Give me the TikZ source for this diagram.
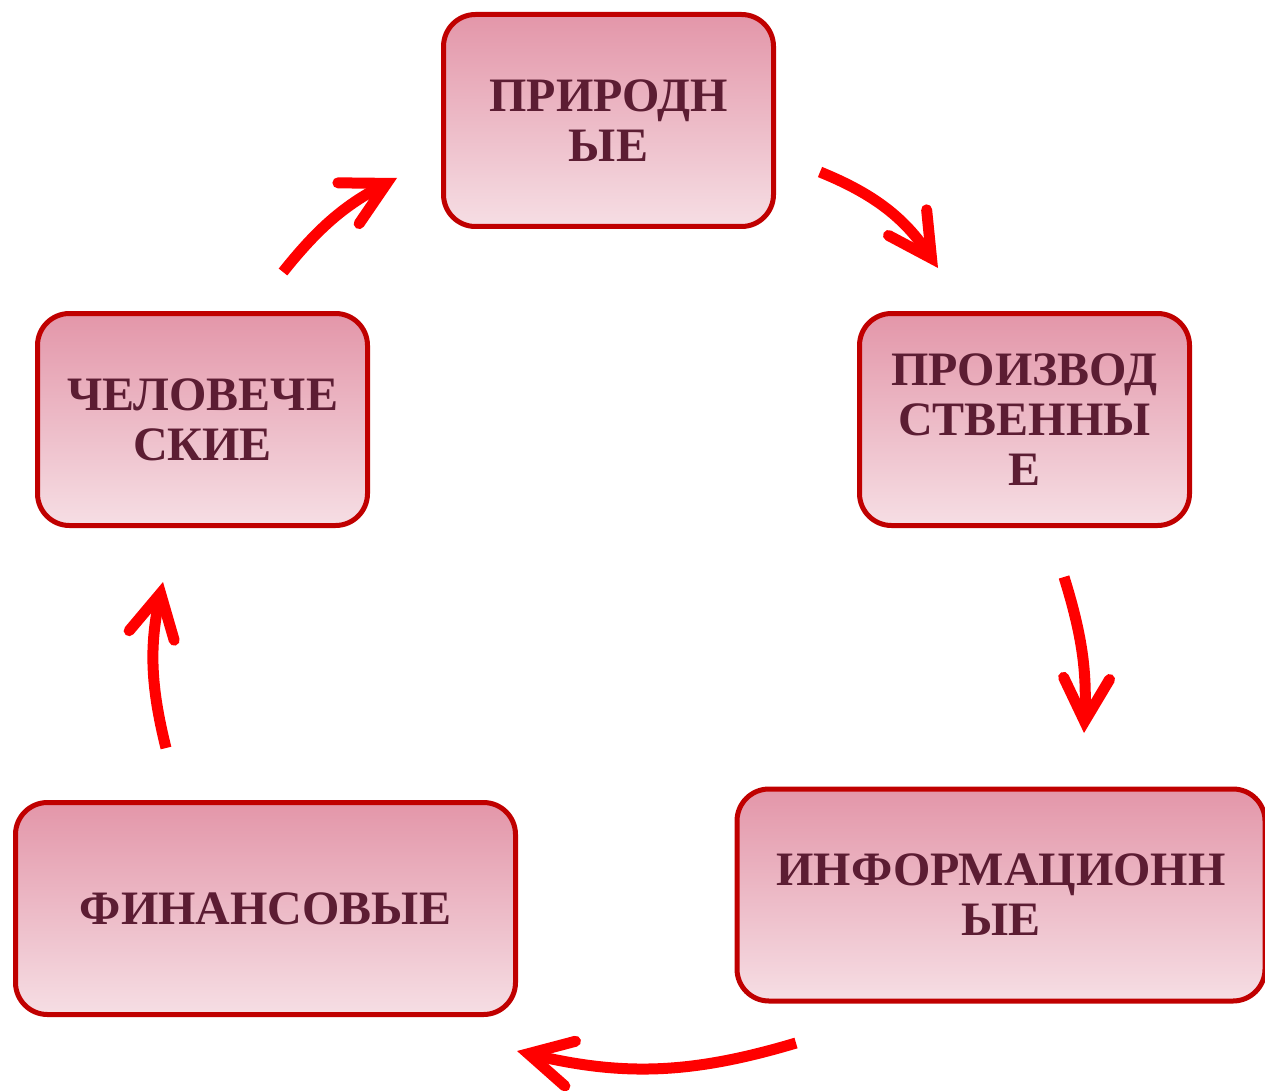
\documentclass[tikz,border=0pt]{standalone}
\usepackage{fontspec}
\setmainfont{Liberation Serif}
\usetikzlibrary{arrows.meta}

\definecolor{boxtop}{HTML}{E396A9}
\definecolor{boxbottom}{HTML}{F6DEE4}
\definecolor{boxline}{HTML}{C00000}
\definecolor{boxtext}{HTML}{5C1D33}

\tikzset{
  resbox/.style={draw=boxline, line width=5pt, rounded corners=32pt,
    top color=boxtop, bottom color=boxbottom, minimum height=212pt,
    align=center, text=boxtext, inner sep=0pt,
    font=\fontsize{48}{50}\selectfont\bfseries},
  cyclearrow/.style={draw=red, line width=11pt,
    -{Straight Barb[length=43pt, width=46pt, line cap=round, line join=miter]}}
}

\begin{document}
\begin{tikzpicture}[x=1pt, y=-1pt]
            \useasboundingbox (0,0) rectangle (1265,1091);
            \node[resbox, minimum width=330pt] (prir) at (608.5, 120.5) {ПРИРОДН\\ЫЕ};
            \node[resbox, minimum width=330pt] (proizv) at (1024.5, 419.5) {ПРОИЗВОД\\СТВЕННЫ\\Е};
            \node[resbox, minimum width=528pt] (inform) at (1001, 895) {ИНФОРМАЦИОНН\\ЫЕ};
            \node[resbox, minimum width=500pt] (fin) at (265.5, 908.5) {ФИНАНСОВЫЕ};
            \node[resbox, minimum width=330pt] (chel) at (202.5, 419.5) {ЧЕЛОВЕЧЕ\\СКИЕ};
            % arrow ends
            \coordinate (a1s) at (820, 172);
            \coordinate (a1e) at (938, 268);
            \coordinate (a2s) at (1064, 577);
            \coordinate (a2e) at (1084, 733);
            \coordinate (a3s) at (796, 1043);
            \coordinate (a3e) at (517, 1051);
            \coordinate (a4s) at (166, 748);
            \coordinate (a4e) at (163, 582);
            \coordinate (a5s) at (283, 272);
            \coordinate (a5e) at (397, 178);
            \draw[cyclearrow] (a1s) to[bend left=17] (a1e);
            \draw[cyclearrow] (a2s) to[bend left=10] (a2e);
            \draw[cyclearrow] (a3s) to[bend left=15] (a3e);
            \draw[cyclearrow] (a4s) to[bend left=13] (a4e);
            \draw[cyclearrow] (a5s) to[bend left=12] (a5e);
        \end{tikzpicture}
\end{document}
